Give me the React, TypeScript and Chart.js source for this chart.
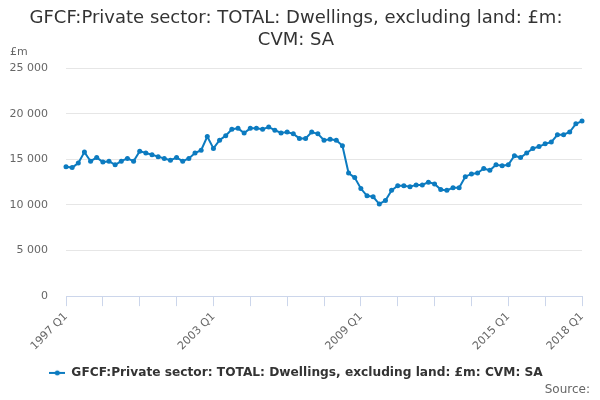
import { useEffect, useRef } from "react";
import { Chart, registerables } from "chart.js";

Chart.register(...registerables);

const titleLines = ["GFCF:Private sector: TOTAL: Dwellings, excluding land: £m:", "CVM: SA"];
const seriesName = "GFCF:Private sector: TOTAL: Dwellings, excluding land: £m: CVM: SA";
const unitLabel = "£m";
const sourceLabel = "Source:";

const firstYear = 1997;
const lastYear = 2018;
const quarters: string[] = [];
for (let y = firstYear; y <= lastYear; y++) {
    for (let q = 1; q <= 4; q++) {
        if (y === lastYear && q > 1) break;
        quarters.push(`${y} Q${q}`);
    }
}

const shownLabels = ["1997 Q1", "2003 Q1", "2009 Q1", "2015 Q1", "2018 Q1"];

const dwellings = [
    14200, 14100, 14600, 15800, 14800, 15200, 14700, 14800,
    14400, 14800, 15100, 14800, 15900, 15700, 15500, 15300,
    15100, 14900, 15200, 14800, 15100, 15700, 16000, 17500,
    16200, 17100, 17600, 18300, 18400, 17900, 18400, 18400,
    18300, 18550, 18200, 17900, 18000, 17800, 17300, 17300,
    18000, 17800, 17100, 17200, 17100, 16500, 13500, 13000,
    11800, 11000, 10900, 10100, 10500, 11600, 12100, 12100,
    12000, 12200, 12200, 12500, 12300, 11700, 11600, 11900,
    11900, 13100, 13400, 13500, 14000, 13800, 14400, 14300,
    14400, 15400, 15200, 15700, 16200, 16400, 16700, 16900,
    17700, 17700, 18000, 18900, 19200,
];

const yTicks = [0, 5000, 10000, 15000, 20000, 25000];

const LINE = "#0c7bc0";
const FONT = "'DejaVu Sans', sans-serif";

function legendSymbol() {
    const c = document.createElement("canvas");
    c.width = 16;
    c.height = 8;
    const g = c.getContext("2d")!;
    g.strokeStyle = LINE;
    g.lineWidth = 2;
    g.beginPath();
    g.moveTo(0, 4);
    g.lineTo(16, 4);
    g.stroke();
    g.fillStyle = LINE;
    g.beginPath();
    g.arc(8, 4, 2.5, 0, Math.PI * 2);
    g.fill();
    return c;
}

const extras = {
    id: "extras",
    afterDraw(chart: Chart) {
        const ctx = chart.ctx;
        ctx.save();
        ctx.font = `12px ${FONT}`;
        ctx.fillStyle = "#666666";
        ctx.textAlign = "right";
        ctx.textBaseline = "middle";
        ctx.fillText(sourceLabel, 590, 390);
        ctx.textAlign = "left";
        ctx.font = `11px ${FONT}`;
        ctx.fillText(unitLabel, 10, 52);
        ctx.restore();
    },
};

const App = () => {
    const canvasRef = useRef<HTMLCanvasElement | null>(null);

    useEffect(() => {
        if (!canvasRef.current) return;
        const ctx = canvasRef.current.getContext("2d");
        if (!ctx) return;

        const symbol = legendSymbol();

        const chart = new Chart(ctx, {
            type: "line",
            data: {
                labels: quarters,
                datasets: [
                    {
                        label: seriesName,
                        data: dwellings,
                        borderColor: LINE,
                        backgroundColor: LINE,
                        borderWidth: 2,
                        pointStyle: "circle",
                        pointRadius: 2.5,
                        pointHoverRadius: 3,
                        pointBackgroundColor: LINE,
                        pointBorderWidth: 0,
                        tension: 0,
                    },
                ],
            },
            options: {
                animation: false,
                responsive: true,
                maintainAspectRatio: false,
                layout: { padding: { left: 10, right: 18, top: 8, bottom: 11 } },
                plugins: {
                    title: {
                        display: true,
                        text: titleLines,
                        color: "#333333",
                        font: { family: FONT, size: 18, weight: "normal", lineHeight: 1.2 },
                        padding: { top: 0, bottom: 17 },
                    },
                    legend: {
                        position: "bottom",
                        labels: {
                            color: "#333333",
                            font: { family: FONT, size: 12.2, weight: "bold" },
                            usePointStyle: true,
                            pointStyleWidth: 16,
                            generateLabels: (c) => [
                                {
                                    text: seriesName,
                                    pointStyle: symbol as any,
                                    fillStyle: LINE,
                                    strokeStyle: LINE,
                                    lineWidth: 0,
                                    datasetIndex: 0,
                                    fontColor: "#333333",
                                    hidden: !c.isDatasetVisible(0),
                                },
                            ],
                        },
                    },
                    tooltip: { enabled: false },
                },
                scales: {
                    x: {
                        type: "category",
                        offset: false,
                        border: { color: "#ccd6eb", width: 1 },
                        grid: {
                            drawOnChartArea: false,
                            drawTicks: true,
                            tickLength: 10,
                            tickColor: (c: any) => (c.index % 6 === 0 ? "#ccd6eb" : "rgba(0,0,0,0)"),
                        },
                        ticks: {
                            autoSkip: false,
                            maxRotation: 45,
                            minRotation: 45,
                            color: "#666666",
                            font: { family: FONT, size: 11 },
                            padding: 4,
                            callback: (_v, i) => (shownLabels.includes(quarters[i]) ? quarters[i] : ""),
                        },
                    },
                    y: {
                        min: 0,
                        max: 25000,
                        border: { display: false },
                        grid: { color: "#e6e6e6", drawTicks: false },
                        afterBuildTicks: (s: any) => {
                            s.ticks = yTicks.map((v) => ({ value: v }));
                        },
                        afterFit: (s: any) => {
                            s.width = 56;
                        },
                        ticks: {
                            color: "#666666",
                            font: { family: FONT, size: 11 },
                            padding: 18,
                            callback: (v) => String(v).replace(/\B(?=(\d{3})+(?!\d))/g, " "),
                        },
                    },
                },
            },
            plugins: [extras],
        });

        return () => {
            chart.destroy();
        };
    }, []);

    return (
        <div style={{ position: "fixed", left: 0, top: 0, width: 600, height: 400 }}>
            <canvas ref={canvasRef}></canvas>
        </div>
    );
};

export default App;
